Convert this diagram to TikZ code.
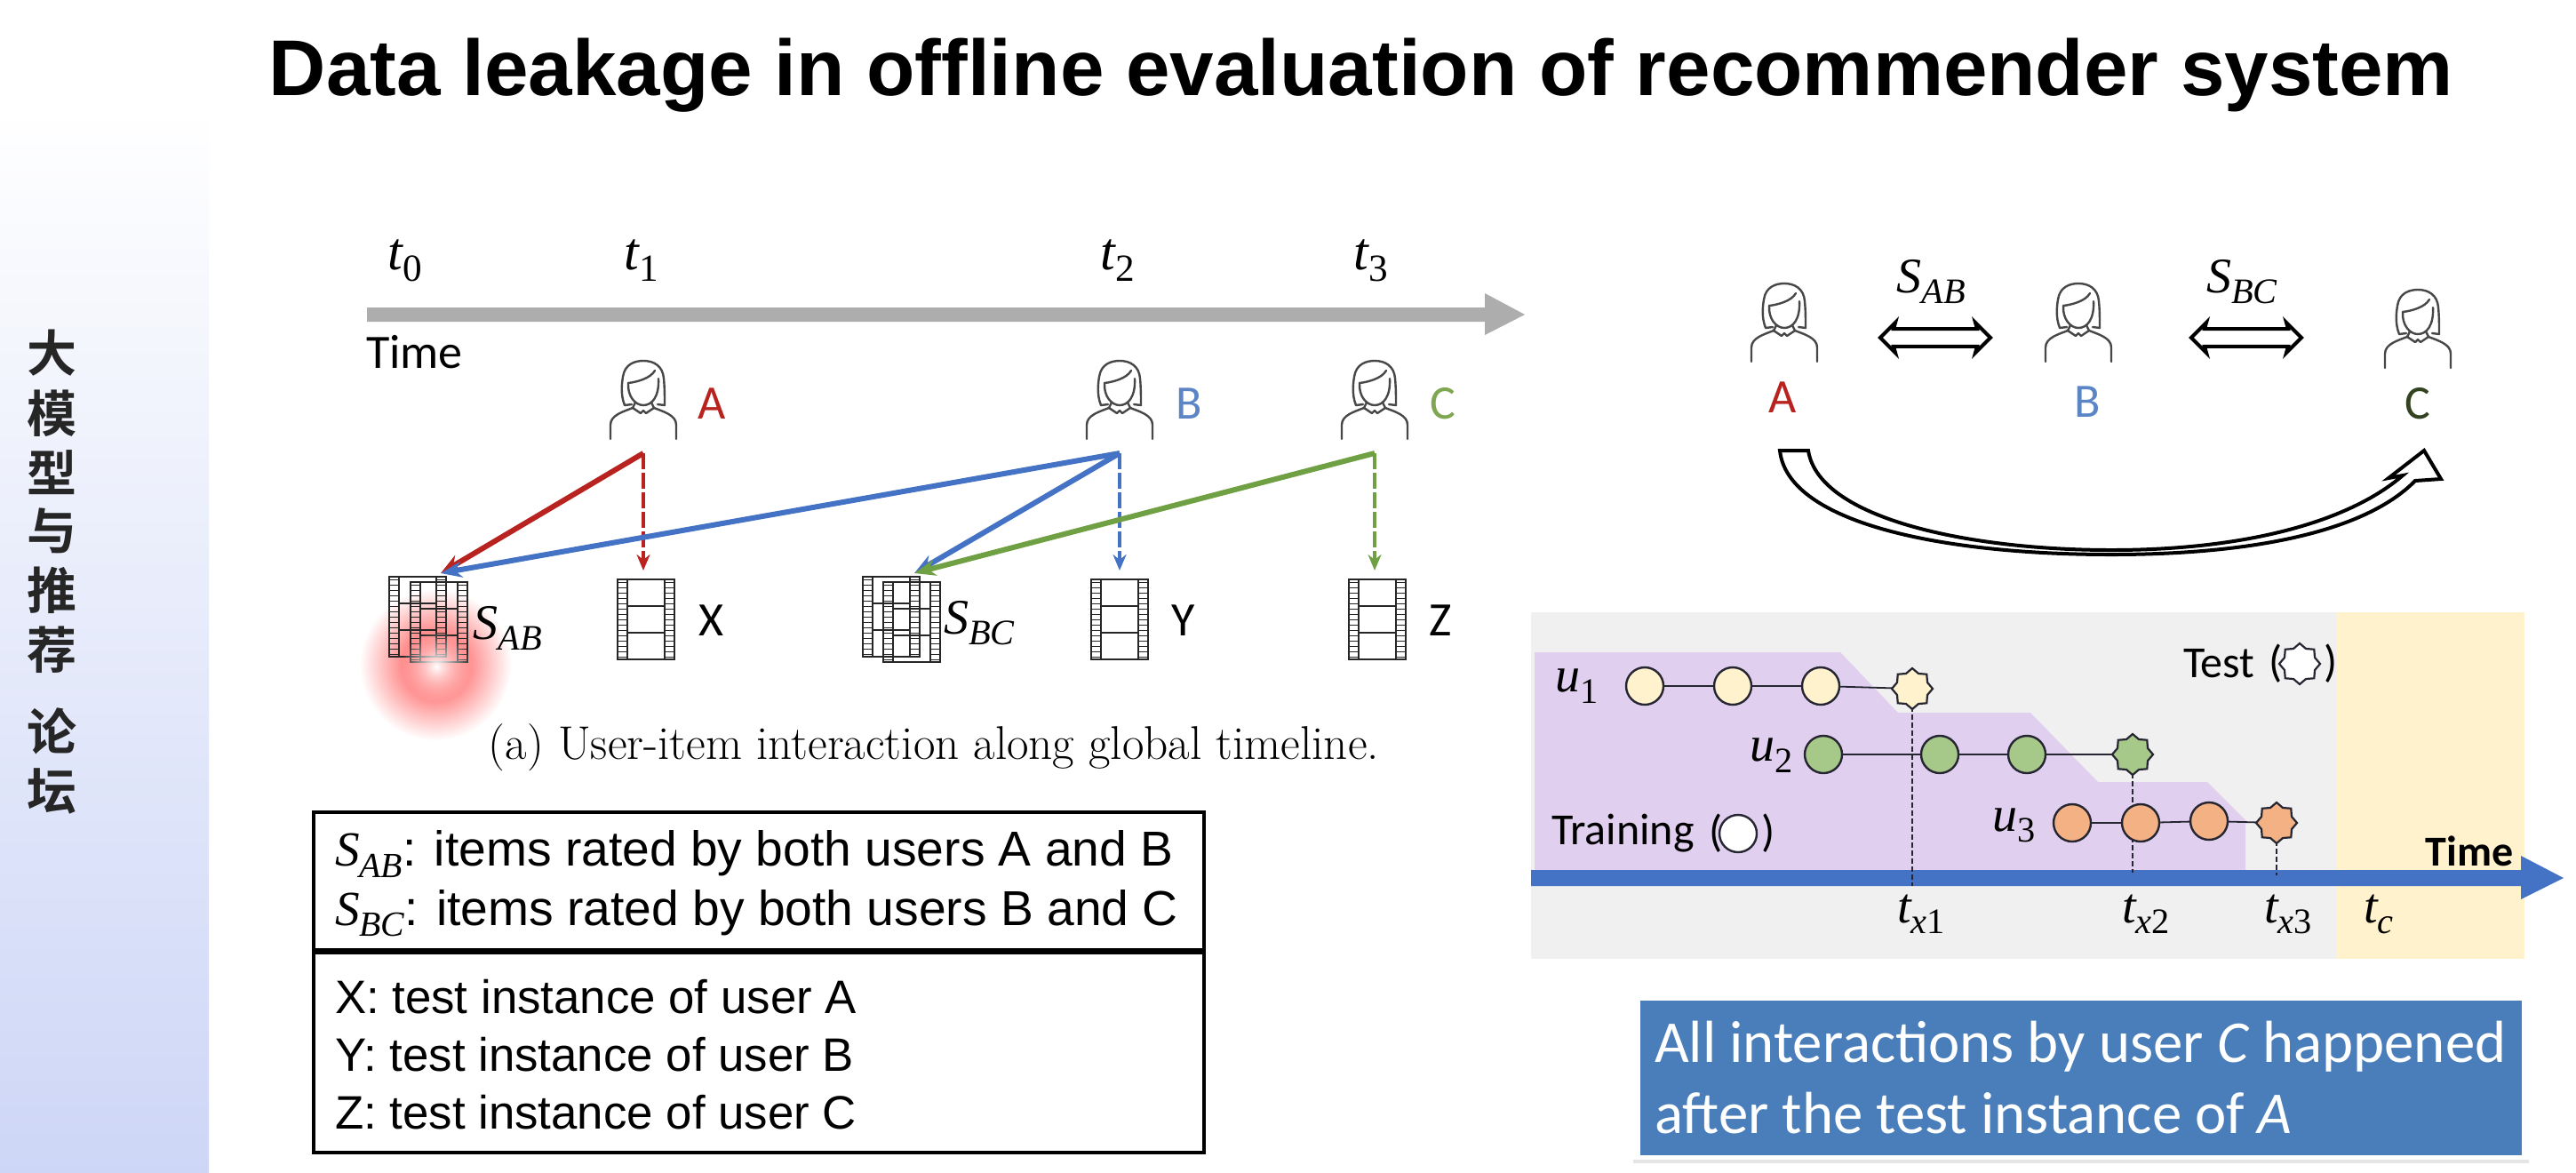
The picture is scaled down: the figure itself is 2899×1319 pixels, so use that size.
\documentclass[tikz,border=0pt]{standalone}
\usepackage{fontspec}
\usepackage{graphicx}
\setmainfont{Latin Modern Roman}
\newfontfamily\arialf{Liberation Sans}
\newfontfamily\calibf{Carlito}
\newfontfamily\serifm{Liberation Serif}
\newfontfamily\cjkf{Noto Sans CJK SC}[BoldFont={* Bold}]
\usetikzlibrary{shapes.geometric,shapes.arrows,arrows.meta,fadings}
% letter with subscript, in a tall narrow serif italic
\newcommand{\subi}[2]{{\serifm\itshape #1\raisebox{-0.22em}{\scalebox{0.72}{#2}}}}
\definecolor{cred}{HTML}{B8231F}
\definecolor{cblue}{HTML}{4472C4}
\definecolor{cgreen}{HTML}{70A044}
\definecolor{lblblue}{HTML}{5B85C5}
\definecolor{lblgreen}{HTML}{7FA650}
\definecolor{panelgray}{HTML}{F0F0F0}
\definecolor{panelyellow}{HTML}{FFF2CC}
\definecolor{panelpurple}{HTML}{E0CFEE}
\definecolor{dotyellow}{HTML}{FFF2CC}
\definecolor{dotgreen}{HTML}{A6C98A}
\definecolor{dotorange}{HTML}{F4B183}
\definecolor{calloutblue}{HTML}{4A7EBB}
\definecolor{sidetop}{HTML}{FFFFFF}
\definecolor{sidebot}{HTML}{CDD6F6}
\definecolor{inkdark}{HTML}{262633}
\tikzfading[name=glowfade,
  inner color=transparent!0,
  middle color=transparent!35,
  outer color=transparent!100]
\tikzfading[name=whitefade,
  inner color=transparent!0,
  middle color=transparent!0,
  outer color=transparent!100]
\tikzset{
  x=0.5pt,y=-0.5pt,
  every node/.style={inner sep=0pt,outer sep=0pt},
  calib/.style={font=\calibf\fontsize{27}{32}\selectfont},
  caliblab/.style={font=\calibf\fontsize{25}{30}\selectfont},
  boxtext/.style={font=\arialf\fontsize{26.4}{30}\selectfont,anchor=west},
  boxtextb/.style={font=\arialf\fontsize{27.6}{30}\selectfont,anchor=west},
  maths/.style={font=\fontsize{28}{32}\selectfont},
  mathtop/.style={font=\fontsize{30}{34}\selectfont},
  infobox/.style={draw=black,line width=2pt},
  solidlink/.style={line width=3pt,-{Stealth[length=12pt,width=9pt]}},
  dashlink/.style={line width=2.3pt,dash pattern=on 9pt off 2pt,-{Stealth[length=9pt,width=7.5pt]}},
  dot/.style={circle,draw=inkdark,line width=1.2pt,minimum size=21pt},
  testpt/.style={star,star points=8,star point ratio=1.25,draw=inkdark,line width=1.1pt,minimum size=23pt},
  seqline/.style={draw=inkdark,line width=0.9pt},
  tickline/.style={draw=inkdark,line width=1.1pt,dash pattern=on 3pt off 1.5pt},
  callouttext/.style={font=\calibf\fontsize{33.4}{40}\selectfont,text=white,anchor=base west},
  person/.pic={
    \begin{scope}[draw=black!72,line width=1.2pt,line cap=round,line join=round]
      \draw (-21,50) .. controls (-26,38) and (-24,24) .. (-23,18)
        .. controls (-21,4) and (-10,0) .. (0,0)
        .. controls (12,0) and (22,6) .. (23,20)
        .. controls (24,30) and (24,42) .. (24,50) -- (16,49);
      \draw (-17,25) .. controls (-18,40) and (-9,50) .. (0,50)
        .. controls (10,50) and (18,40) .. (17,20);
      \draw (-17,25) .. controls (-8,24) and (8,20) .. (13,11);
      \draw (-21,50) -- (-13,49);
      \draw (-9,47) -- (-12,53) -- (-3,59) -- (0,56) -- (3,59) -- (12,53) -- (9,47);
      \draw (-37,88) -- (-37,72) .. controls (-37,61) and (-22,57) .. (-12,53);
      \draw (37,88) -- (37,72) .. controls (37,61) and (22,57) .. (12,53);
    \end{scope}
  },
  film/.pic={
    \begin{scope}[draw=black!85]
      \draw[line width=0.9pt] (0,0) rectangle (64,90);
      \draw[line width=0.7pt] (11,0) -- (11,90) (53,0) -- (53,90);
      \draw[line width=0.9pt] (11,30) -- (53,30) (11,60) -- (53,60);
      \foreach \k in {3,9,...,87} {
        \draw[line width=0.5pt] (0,\k) -- (11,\k) (53,\k) -- (64,\k);
      }
    \end{scope}
  }
}
\begin{document}
\begin{tikzpicture}
\useasboundingbox (0,0) rectangle (2899,1319);
\fill[white] (0,0) rectangle (2899,1319);
% side band
\shade[top color=sidetop,bottom color=sidebot] (0,120) rectangle (235,1319);
\foreach \ch/\yy in {大/397,模/465,型/532,与/597,推/664,荐/731,论/823,坛/890}{
  \node[font=\cjkf\bfseries\fontsize{28}{28}\selectfont,text=black!85] at (59,\yy) {\ch};
}
% title
\node[font=\arialf\bfseries\fontsize{44.5}{50}\selectfont] (title) at (1532,85) {Data leakage in offline evaluation of recommender system};

% timeline
\fill[black!32] (413,346) -- (1671,346) -- (1671,330) -- (1716,354) -- (1671,377) -- (1671,362) -- (413,362) -- cycle;
\node[mathtop] (t0) at (456,293) {\subi{t}{\upshape 0}};
\node[mathtop] (t1) at (722,293) {\subi{t}{\upshape 1}};
\node[mathtop] (t2) at (1258,293) {\subi{t}{\upshape 2}};
\node[mathtop] (t3) at (1543,293) {\subi{t}{\upshape 3}};
\node[calib,anchor=west] (timelab) at (412,396) {Time};

% glow
\fill[red!80!white,path fading=glowfade] (490,748) circle[radius=85];

% users on timeline
\pic at (724,406) {person};
\pic at (1260,406) {person};
\pic at (1547,406) {person};
\node[calib,text=cred] (la) at (801,454) {A};
\node[calib,text=lblblue] (lb) at (1338,454) {B};
\node[calib,text=lblgreen] (lc) at (1624,454) {C};

% films
\pic at (438,649) {film};
\pic at (462,655) {film};
\pic at (695,652) {film};
\pic at (971,649) {film};
\pic at (994,655) {film};
\pic at (1228,652) {film};
\pic at (1518,652) {film};
\fill[white,path fading=whitefade] (491,750) circle[radius=40];

\node[maths] (sab) at (571,707) {\subi{S}{AB}};
\node[calib] (fx) at (801,698) {X};
\node[maths] (sbc) at (1102,701) {\subi{S}{BC}};
\node[calib] (fy) at (1332,698) {Y};
\node[calib] (fz) at (1621,698) {Z};

% link coordinates
\coordinate (ua) at (724,510);
\coordinate (ub) at (1260,510);
\coordinate (uc) at (1547,510);
\coordinate (itemab) at (496,645);
\coordinate (itembc) at (1029,645);
\coordinate (itemx) at (724,642);
\coordinate (itemy) at (1260,642);
\coordinate (itemz) at (1547,642);
\draw[solidlink,cred] (ua) -- (itemab);
\draw[dashlink,cred] (ua) -- (itemx);
\draw[solidlink,cblue] (ub) -- (itemab);
\draw[solidlink,cblue] (ub) -- (itembc);
\draw[dashlink,cblue] (ub) -- (itemy);
\draw[solidlink,cgreen] (uc) -- (itembc);
\draw[dashlink,cgreen] (uc) -- (itemz);

\node[font=\fontsize{26.6}{30}\selectfont] (caption) at (1051,841) {(a) User-item interaction along global timeline.};

% legend boxes
\draw[infobox] (353,914) rectangle (1355,1069);
\draw[infobox] (353,1072) rectangle (1355,1297);
\node[boxtextb] (l1) at (377,961) {\subi{S}{AB}: items rated by both users A and B};
\node[boxtextb] (l2) at (377,1028) {\subi{S}{BC}: items rated by both users B and C};
\node[boxtext] (l3) at (377,1122) {X: test instance of user A};
\node[boxtext] (l4) at (377,1187) {Y: test instance of user B};
\node[boxtext] (l5) at (377,1252) {Z: test instance of user C};

% top-right users
\pic at (2008,319) {person};
\pic at (2339,319) {person};
\pic at (2721,326) {person};
\node[calib,text=cred] (ra) at (2006,447) {A};
\node[calib,text=lblblue] (rb) at (2349,452) {B};
\node[calib,text=black!60!lblgreen] (rc) at (2721,454) {C};
\node[maths] (rsab) at (2173,317) {\subi{S}{AB}};
\node[maths] (rsbc) at (2523,317) {\subi{S}{BC}};
\node[double arrow,draw=black,fill=white,line width=2pt,minimum height=62pt,minimum width=17pt,
  double arrow head extend=2.5pt,double arrow head indent=1pt,inner sep=2.5pt] (d1) at (2178,380) {};
\node[double arrow,draw=black,fill=white,line width=2pt,minimum height=62pt,minimum width=17pt,
  double arrow head extend=2.5pt,double arrow head indent=1pt,inner sep=2.5pt] (d2) at (2528,380) {};
% curved block arrow
\draw[line width=2pt,line join=miter,fill=white]
  (2003,507) .. controls (2012,590) and (2190,624) .. (2376,624)
  .. controls (2530,624) and (2660,600) .. (2718,541)
  -- (2747,539) -- (2728,507) -- (2688,538) -- (2704,535)
  .. controls (2640,590) and (2520,619) .. (2376,619)
  .. controls (2220,619) and (2047,585) .. (2035,507) -- cycle;

% lower right panel
\fill[panelgray] (1723,689) rectangle (2630,1079);
\fill[panelyellow] (2630,689) rectangle (2841,1079);
\fill[panelpurple] (1727,734) -- (2071,734) -- (2136,802) -- (2285,802) -- (2361,880)
  -- (2484,880) -- (2527,923) -- (2527,980) -- (1727,980) -- cycle;
\fill[cblue] (1723,979) -- (2837,979) -- (2837,963) -- (2885,988) -- (2837,1012) -- (2837,997) -- (1723,997) -- cycle;

% dashed ticks lie under the points
\coordinate (ax1t) at (2152,795);
\coordinate (ax1) at (2152,997);
\coordinate (ax2t) at (2400,870);
\coordinate (ax2) at (2400,982);
\coordinate (ax3t) at (2562,946);
\coordinate (ax3) at (2562,985);
\draw[tickline] (ax1t) -- (ax1);
\draw[tickline] (ax2t) -- (ax2);
\draw[tickline] (ax3t) -- (ax3);

\node[dot,fill=dotyellow] (a1) at (1851,772) {};
\node[dot,fill=dotyellow] (a2) at (1950,772) {};
\node[dot,fill=dotyellow] (a3) at (2049,772) {};
\node[testpt,fill=dotyellow] (a4) at (2152,775) {};
\node[dot,fill=dotgreen] (b1) at (2052,849) {};
\node[dot,fill=dotgreen] (b2) at (2183,849) {};
\node[dot,fill=dotgreen] (b3) at (2281,849) {};
\node[testpt,fill=dotgreen] (b4) at (2400,849) {};
\node[dot,fill=dotorange] (c1) at (2332,926) {};
\node[dot,fill=dotorange] (c2) at (2409,926) {};
\node[dot,fill=dotorange] (c3) at (2486,924) {};
\node[testpt,fill=dotorange] (c4) at (2562,926) {};
\draw[seqline] (a1) -- (a2);
\draw[seqline] (a2) -- (a3);
\draw[seqline] (a3) -- (a4);
\draw[seqline] (b1) -- (b2);
\draw[seqline] (b2) -- (b3);
\draw[seqline] (b3) -- (b4);
\draw[seqline] (c1) -- (c2);
\draw[seqline] (c2) -- (c3);
\draw[seqline] (c3) -- (c4);

\node[maths] (u1) at (1775,772) {\subi{u}{\upshape 1}};
\node[maths] (u2) at (1994,850) {\subi{u}{\upshape 2}};
\node[maths] (u3) at (2267,929) {\subi{u}{\upshape 3}};
\node[maths] (tx1) at (2162,1029) {\subi{t}{x{\upshape 1}}};
\node[maths] (tx2) at (2415,1029) {\subi{t}{x{\upshape 2}}};
\node[maths] (tx3) at (2575,1029) {\subi{t}{x{\upshape 3}}};
\node[maths] (tc) at (2677,1029) {\subi{t}{c}};

\node[caliblab,anchor=west] (testlab) at (2457,747) {Test};
\node[caliblab] (testopen) at (2561,747) {(};
\node[testpt,fill=white] (teststar) at (2588,747) {};
\node[caliblab] (testclose) at (2623,747) {)};
\node[caliblab,anchor=west] (trainlab) at (1746,938) {Training};
\node[caliblab] (trainopen) at (1931,938) {(};
\node[dot,fill=white] (traindot) at (1956,938) {};
\node[caliblab] (trainclose) at (1990,938) {)};
\node[font=\calibf\bfseries\fontsize{24}{28}\selectfont] (timeb) at (2779,958) {Time};

% callout
\fill[black!10] (1838,1132) rectangle (2846,1309);
\fill[white] (1838,1118) rectangle (2846,1305);
\fill[calloutblue] (1846,1126) rectangle (2838,1300);
\node[callouttext] (cl1) at (1862,1195) {All interactions by user \textit{C} happened};
\node[callouttext] (cl2) at (1862,1275) {after the test instance of \textit{A}};
\end{tikzpicture}
\end{document}
